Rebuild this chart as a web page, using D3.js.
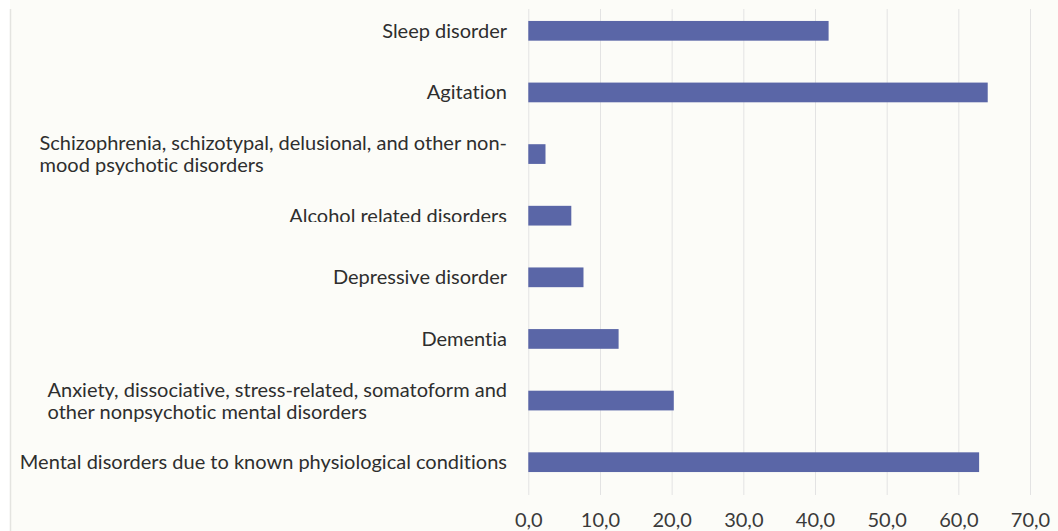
<!DOCTYPE html>
<html>
<head>
<meta charset="utf-8">
<script src="https://cdn.jsdelivr.net/npm/d3@7"></script>
<style>
    body { margin: 0; background: #ffffff; }
    svg { display: block; }
    text { font-variant-ligatures: none; }
</style>
</head>
<body>
<div id="chart"></div>
<script>
// Psychiatric diagnoses, horizontal bars
const categories = [
    "Sleep disorder",
    "Agitation",
    "Schizophrenia, schizotypal, delusional, and other non-|mood psychotic disorders",
    "Alcohol related disorders",
    "Depressive disorder",
    "Dementia",
    "Anxiety, dissociative, stress-related, somatoform and|other nonpsychotic mental disorders",
    "Mental disorders due to known physiological conditions"
];
const values = [41.9, 64.1, 2.4, 6.0, 7.7, 12.6, 20.3, 62.9];
const xTicks = [0, 10, 20, 30, 40, 50, 60, 70];

(function () {
    const width = 1058;
    const height = 531;
    const plot = { left: 528.3, right: 1030, top: 0, bottom: 493 };
    const fontSize = '20px';

    const svg = d3.select('#chart')
        .append('svg')
        .attr('width', width)
        .attr('height', height);

    // chart area background and left border
    svg.append('rect')
        .attr('x', 10).attr('y', 0)
        .attr('width', width - 10).attr('height', height)
        .attr('fill', '#fcfcf8');
    svg.append('line')
        .attr('x1', 10.5).attr('x2', 10.5)
        .attr('y1', 9).attr('y2', height)
        .attr('stroke', '#e4e4e0')
        .attr('stroke-width', 1.5);

    const x = d3.scaleLinear()
        .domain([0, 70])
        .range([plot.left, plot.right]);

    const y = d3.scaleBand()
        .domain(categories)
        .range([plot.top, plot.bottom])
        .paddingInner(0.68)
        .paddingOuter(0.34);

    // x axis with gridlines
    const xAxis = svg.append('g')
        .attr('transform', 'translate(0,495)')
        .call(d3.axisBottom(x)
            .tickValues(xTicks)
            .tickSize(-486)
            .tickPadding(18)
            .tickFormat(d => d.toFixed(1).replace('.', ',')));
    xAxis.select('.domain').remove();
    xAxis.selectAll('.tick line')
        .attr('stroke', '#e3e3e3')
        .attr('stroke-width', 1);
    xAxis.selectAll('.tick text')
        .attr('fill', '#3a3a3a')
        .style('font-family', 'Lato, sans-serif')
        .style('font-size', fontSize);

    svg.append('g')
        .selectAll('rect')
        .data(categories)
        .enter()
        .append('rect')
        .attr('x', x(0))
        .attr('y', d => y(d))
        .attr('width', (d, i) => x(values[i]) - x(0))
        .attr('height', y.bandwidth())
        .attr('fill', '#5a66a7');

    // clip that cuts the bottom of one label, as in the source image
    svg.append('clipPath')
        .attr('id', 'cut')
        .append('rect')
        .attr('x', 0).attr('y', 0)
        .attr('width', width).attr('height', 222);

    const labelX = 507;
    const lineGap = 22;
    const labels = svg.append('g')
        .style('font-family', 'Lato, sans-serif')
        .style('font-size', fontSize)
        .attr('fill', '#2e2e2e');

    categories.forEach((c, i) => {
        const lines = c.split('|');
        const cy = y(c) + y.bandwidth() / 2;
        const t = labels.append('text');
        if (c.startsWith('Alcohol')) t.attr('clip-path', 'url(#cut)');
        lines.forEach((l, j) => {
            t.append('tspan')
                .attr('y', cy - (lines.length - 1) * lineGap / 2 + j * lineGap)
                .attr('dy', '0.35em')
                .text(l);
        });
        // right-align the block, keep wrapped lines left-aligned
        const w = d3.max(t.selectAll('tspan').nodes(), n => n.getComputedTextLength());
        t.selectAll('tspan').attr('x', labelX - w);
    });
})();
</script>
</body>
</html>
